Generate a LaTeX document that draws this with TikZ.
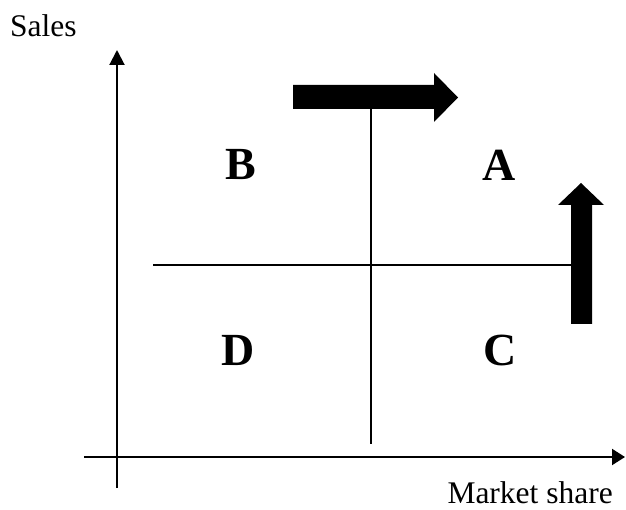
\documentclass[tikz,border=0pt]{standalone}
\usepackage{fontspec}
\setmainfont{Liberation Serif}
\usetikzlibrary{arrows.meta}
\begin{document}
\begin{tikzpicture}[x=1pt,y=-1pt,
    axis/.style={line width=2pt},
    divider/.style={line width=1.3pt},
    quadrant/.style={font=\fontsize{46}{50}\selectfont\bfseries, inner sep=0pt, anchor=base},
    axislabel/.style={font=\fontsize{31.5}{34}\selectfont, inner sep=0pt},
    bigarrow/.style={fill=black, draw=none}]
  \useasboundingbox (0,0) rectangle (626,510);

  % axes
  \coordinate (ybot) at (117,488);
  \coordinate (ytop) at (117,50);
  \coordinate (xleft) at (84,457);
  \coordinate (xright) at (625,457);
  \draw[axis, -{Triangle[length=15pt,width=15pt]}] (ybot) -- (ytop);
  \draw[axis, -{Triangle[length=13pt,width=16pt]}] (xleft) -- (xright);

  \node[axislabel, anchor=base west] (sales) at (10,37) {Sales};
  \node[axislabel, anchor=base east] (share) at (613,503) {Market share};

  % quadrant dividers
  \coordinate (vtop) at (371,109);
  \coordinate (vbot) at (371,444);
  \coordinate (hleft) at (153,265);
  \coordinate (hright) at (572,265);
  \draw[divider] (vtop) -- (vbot);
  \draw[divider] (hleft) -- (hright);

  % quadrant letters
  \node[quadrant] (B) at (241,180) {B};
  \node[quadrant] (A) at (499,181) {A};
  \node[quadrant] (D) at (238,365) {D};
  \node[quadrant] (C) at (500,365) {C};

  % block arrow to the right
  \fill[bigarrow] (293,85) -- (434,85) -- (434,73) -- (458,97.5) -- (434,122)
    -- (434,109) -- (293,109) -- cycle;

  % block arrow upwards
  \fill[bigarrow] (571,324) -- (571,205) -- (558,205) -- (581,183) -- (604,205)
    -- (592,205) -- (592,324) -- cycle;
\end{tikzpicture}
\end{document}
